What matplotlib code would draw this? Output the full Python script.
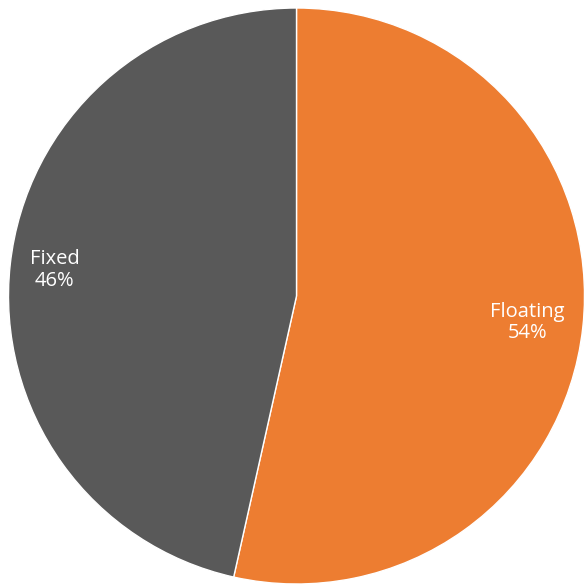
import matplotlib
matplotlib.use("Agg")
import matplotlib.pyplot as plt

labels = ["Floating", "Fixed"]
shares = [53.5, 46.5]
pct_labels = ["54%", "46%"]
colors = ["#ED7D31", "#595959"]

fig = plt.figure(figsize=(5.86, 5.84), dpi=100)
ax = fig.add_axes([0, 0, 1, 1])

wedges, _ = ax.pie(shares, colors=colors, startangle=90, counterclock=False,
                   radius=1.0, wedgeprops=dict(edgecolor="white", linewidth=1))

# data labels
label_pos = [(0.802, -0.092), (-0.839, 0.090)]
for lab, pct, (x, y) in zip(labels, pct_labels, label_pos):
    ax.text(x, y, f"{lab}\n{pct}", ha="center", va="center", color="white",
            fontsize=14.5, family=["Open Sans", "DejaVu Sans"], linespacing=1.1)

# centre at (296.5, 296) px, radius 288 px
ax.set_xlim(-296.5 / 288, (586 - 296.5) / 288)
ax.set_ylim(-(584 - 296) / 288, 296 / 288)
ax.set_aspect("auto")
ax.axis("off")

fig.savefig("out.png", dpi=100, facecolor="white")
